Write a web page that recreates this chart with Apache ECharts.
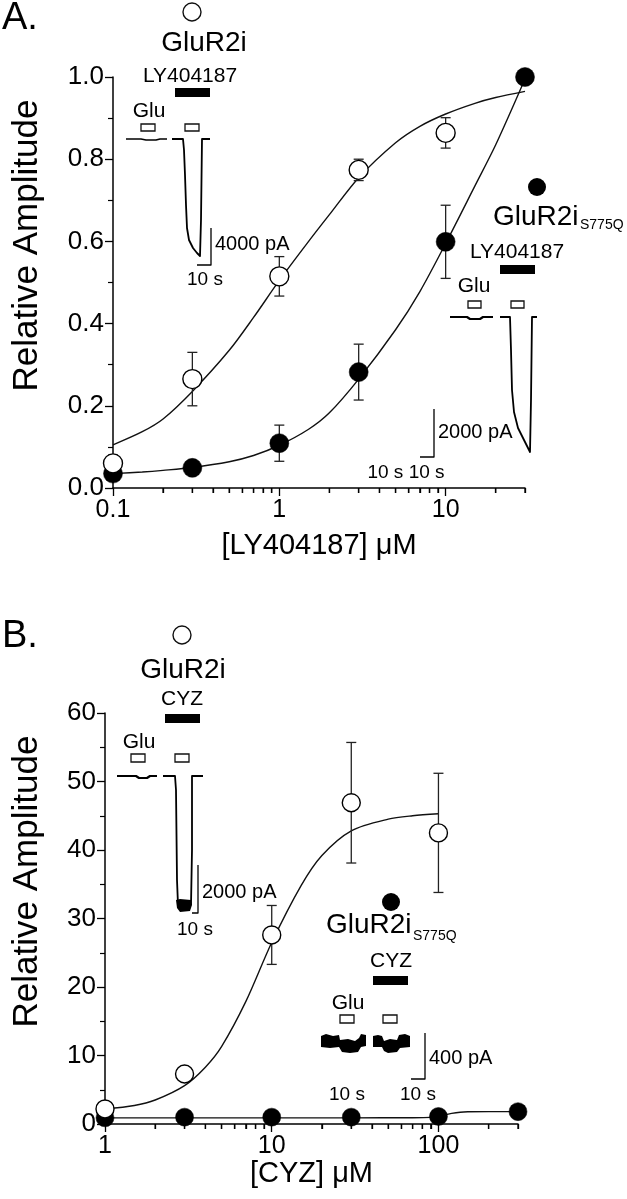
<!DOCTYPE html>
<html>
<head>
<meta charset="utf-8">
<script src="https://cdn.jsdelivr.net/npm/echarts@6/dist/echarts.min.js"></script>
<style>
html,body{margin:0;padding:0;background:#fff;}
#chart{width:627px;height:1199px;}
</style>
</head>
<body>
<div id="chart"></div>
<script>
// ---------------- DATA ----------------
// Panel A: LY404187
const concA = [0.1, 0.3, 1, 3, 10, 30];
const glur2iA = [0.06, 0.265, 0.515, 0.774, 0.864];
const glur2iAErr = [0.02, 0.065, 0.048, 0.026, 0.037];
const s775qA = [0.035, 0.049, 0.109, 0.282, 0.599, 1.0];
const s775qAErr = [0.01, 0.01, 0.044, 0.068, 0.089, 0];
const fitConcA = [0.1, 0.15, 0.2, 0.3, 0.5, 0.7, 1, 1.5, 2, 3, 5, 7, 10, 15, 20, 30];
const fitGluR2iA = [0.105, 0.137, 0.168, 0.235, 0.335, 0.415, 0.505, 0.6, 0.665, 0.755, 0.84, 0.88, 0.91, 0.936, 0.95, 0.965];
const fitS775qA = [0.035, 0.039, 0.043, 0.05, 0.064, 0.079, 0.104, 0.143, 0.183, 0.265, 0.385, 0.478, 0.595, 0.735, 0.835, 0.995];
const majorTicksA = [0.1, 1, 10];
const minorTicksA = [0.2, 0.3, 0.4, 0.5, 0.6, 0.7, 0.8, 0.9, 2, 3, 4, 5, 6, 7, 8, 9, 20, 30];

// Panel B: CYZ
const concB = [1, 3, 10, 30, 100, 300];
const glur2iB = [2.2, 7.3, 27.6, 46.9, 42.5];
const glur2iBErr = [0.4, 0.6, 4.3, 8.8, 8.7];
const s775qB = [0.9, 1.0, 1.0, 1.0, 1.1, 1.8];
const fitConcB = [1, 1.5, 2, 3, 4, 5, 7, 10, 15, 20, 30, 50, 70, 100];
const fitGluR2iB = [2.2, 2.7, 3.5, 5.6, 8.3, 11.3, 17.9, 26.5, 34.8, 39.2, 42.8, 44.5, 45.0, 45.3];
const fitConcS775qB = [1, 10, 30, 70, 90, 100, 110, 120, 135, 150, 200, 300];
const fitS775qB = [0.9, 0.9, 0.9, 0.92, 0.97, 1.1, 1.35, 1.55, 1.72, 1.78, 1.8, 1.8];
const majorTicksB = [1, 10, 100];
const minorTicksB = [2, 3, 4, 5, 6, 7, 8, 9, 20, 30, 40, 50, 60, 70, 80, 90, 200, 300];

// ---------------- HELPERS ----------------
const FONT = '"Liberation Sans", Arial, Helvetica, sans-serif';
const zip = (xs, ys) => ys.map((y, i) => [xs[i], y]);
const errData = (xs, ys, es) => ys.map((y, i) => [xs[i], y - es[i], y + es[i]]);
const fmtLog = v => String(+(+v).toPrecision(3));

function errorBarSeries(data, xi, yi) {
  return {
    type: 'custom', xAxisIndex: xi, yAxisIndex: yi, z: 3,
    renderItem: (params, api) => {
      const x = api.value(0);
      const lo = api.coord([x, api.value(1)]);
      const hi = api.coord([x, api.value(2)]);
      const cw = 5;
      const st = { stroke: '#222', lineWidth: 1.3 };
      return {
        type: 'group',
        children: [
          { type: 'line', shape: { x1: lo[0], y1: lo[1], x2: hi[0], y2: hi[1] }, style: st },
          { type: 'line', shape: { x1: lo[0] - cw, y1: lo[1], x2: lo[0] + cw, y2: lo[1] }, style: st },
          { type: 'line', shape: { x1: hi[0] - cw, y1: hi[1], x2: hi[0] + cw, y2: hi[1] }, style: st }
        ]
      };
    },
    data: data
  };
}

function fitSeries(xs, ys, xi, yi) {
  return {
    type: 'line', xAxisIndex: xi, yAxisIndex: yi, z: 2,
    data: zip(xs, ys), smooth: 0.3, showSymbol: false, symbol: 'none',
    lineStyle: { color: '#111', width: 1.4, opacity: 1 }, silent: true
  };
}

function scatterSeries(xs, ys, xi, yi, open, size) {
  return {
    type: 'scatter', xAxisIndex: xi, yAxisIndex: yi, z: open ? 5 : 4,
    data: zip(xs, ys), symbol: 'circle', symbolSize: size,
    itemStyle: open ? { color: '#fff', borderColor: '#000', borderWidth: 1.4, opacity: 1 }
                    : { color: '#000', borderColor: '#000', borderWidth: 0.5, opacity: 1 },
    clip: false
  };
}

function xMain(gi, min, max, labels, name, nameGap) {
  return {
    type: 'log', logBase: 10, gridIndex: gi, min: min, max: max, position: 'bottom',
    name: name, nameLocation: 'middle', nameGap: nameGap,
    nameTextStyle: { fontFamily: FONT, fontSize: 29, color: '#000' },
    axisLine: { show: true, onZero: false, lineStyle: { color: '#000', width: 1.5 } },
    axisTick: { show: true, length: 8, customValues: labels, lineStyle: { color: '#000', width: 1.3 } },
    axisLabel: { show: true, customValues: labels, formatter: fmtLog, fontFamily: FONT, fontSize: 25, color: '#000', margin: 10 },
    splitLine: { show: false }, minorTick: { show: false }
  };
}
// unlabeled minor ticks: a log axis in a thin strip grid whose bottom edge is the main x-axis line
function xMinor(gi, min, max, ticks) {
  return {
    type: 'log', logBase: 10, gridIndex: gi, min: min, max: max, position: 'bottom',
    axisLine: { show: false, onZero: false },
    axisTick: { show: true, length: 5, customValues: ticks, lineStyle: { color: '#000', width: 1.3 } },
    axisLabel: { show: false }, splitLine: { show: false }
  };
}
function yHidden(gi) {
  return { type: 'value', gridIndex: gi, min: 0, max: 1, show: false };
}
function yAxis(gi, min, max, interval, fmt, nameGap) {
  return {
    type: 'value', gridIndex: gi, min: min, max: max, interval: interval,
    name: 'Relative Amplitude', nameLocation: 'middle', nameRotate: 90, nameGap: nameGap,
    nameTextStyle: { fontFamily: FONT, fontSize: 35, color: '#000', padding: [0, 0, 0, 74] },
    axisLine: { show: true, lineStyle: { color: '#000', width: 1.5 } },
    axisTick: { show: true, length: 8, lineStyle: { color: '#000', width: 1.3 } },
    minorTick: { show: true, splitNumber: 2, length: 5, lineStyle: { color: '#000', width: 1.2 } },
    axisLabel: { formatter: fmt, fontFamily: FONT, fontSize: 26, color: '#000', margin: 9 },
    splitLine: { show: false }
  };
}

// ---------------- GRAPHIC INSETS (illustrative traces) ----------------
const T = (x, y, s, size, align) => ({ type: 'text', x: x, y: y, silent: true,
  style: { text: s, font: size + 'px ' + FONT, fill: '#000', align: align || 'center', verticalAlign: 'middle' } });
const R = (x, y, w, h, filled) => ({ type: 'rect', silent: true, shape: { x: x, y: y, width: w, height: h },
  style: filled ? { fill: '#000' } : { fill: '#fff', stroke: '#111', lineWidth: 1.3 } });
const P = (pts, lw) => ({ type: 'polyline', silent: true, shape: { points: pts },
  style: { stroke: '#000', lineWidth: lw || 1.6, fill: null, lineJoin: 'round' } });
const C = (cx, cy, r, filled) => ({ type: 'circle', silent: true, shape: { cx: cx, cy: cy, r: r },
  style: filled ? { fill: '#000' } : { fill: '#fff', stroke: '#111', lineWidth: 1.4 } });
const PG = (pts) => ({ type: 'polygon', silent: true, shape: { points: pts }, style: { fill: '#000' } });

const graphics = [
  // Panel labels
  T(2, 19, 'A.', 38, 'left'),
  T(2, 637, 'B.', 38, 'left'),

  // ---- Panel A, GluR2i inset ----
  C(192, 12, 9, false),
  T(204, 43, 'GluR2i', 28),
  T(190, 76, 'LY404187', 21),
  R(175, 88, 35, 9, true),
  T(149, 111, 'Glu', 21),
  R(141, 124, 14, 7, false),
  R(185, 124, 14, 7, false),
  P([[126, 139], [141, 139], [146, 140], [156, 140], [160, 139], [167, 139]], 1.6),
  P([[172, 139], [183, 139], [184, 150], [185, 175], [186, 205], [187, 228], [189, 240], [193, 248], [197, 253], [200, 256], [201, 220], [202, 139], [210, 139]], 1.8),
  P([[197, 265], [211, 265], [211, 228]], 1.3),
  T(215, 244, '4000 pA', 20, 'left'),
  T(205, 280, '10 s', 19),

  // ---- Panel A, GluR2i S775Q inset ----
  C(537, 187, 9, true),
  T(493, 217, 'GluR2i', 28, 'left'),
  T(580, 225, 'S775Q', 14, 'left'),
  T(517, 252, 'LY404187', 21),
  R(500, 265, 35, 9, true),
  T(474, 286, 'Glu', 21),
  R(468, 301, 13, 7, false),
  R(511, 301, 13, 7, false),
  P([[450, 317], [467, 317], [470, 319], [480, 319], [483, 317], [493, 317]], 2.2),
  P([[500, 317], [510, 317], [511, 350], [512, 390], [514, 412], [518, 428], [522, 436], [526, 444], [530, 452], [531, 400], [532, 317], [537, 317]], 1.8),
  P([[420, 457], [434, 457], [434, 409]], 1.3),
  T(438, 432, '2000 pA', 20, 'left'),
  T(406, 473, '10 s 10 s', 19),

  // ---- Panel B, GluR2i inset ----
  C(182, 635, 9, false),
  T(183, 670, 'GluR2i', 28),
  T(182, 699, 'CYZ', 21),
  R(165, 714, 35, 9, true),
  T(139, 742, 'Glu', 21),
  R(131, 754, 14, 8, false),
  R(175, 754, 14, 8, false),
  P([[117, 776], [136, 776], [139, 778], [147, 778], [150, 776], [157, 776]], 2.2),
  P([[163, 776], [175, 776], [176, 790], [177, 880], [178, 905]], 1.8),
  PG([[176, 900], [180, 899], [191, 900], [192, 905], [190, 911], [180, 912], [177, 908]]),
  P([[191, 905], [192, 850], [192, 776], [203, 776]], 1.8),
  P([[192, 913], [198, 913], [198, 865]], 1.3),
  T(202, 892, '2000 pA', 20, 'left'),
  T(195, 930, '10 s', 19),

  // ---- Panel B, GluR2i S775Q inset ----
  C(391, 902, 9, true),
  T(326, 925, 'GluR2i', 28, 'left'),
  T(413, 936, 'S775Q', 14, 'left'),
  T(391, 961, 'CYZ', 21),
  R(373, 976, 35, 9, true),
  T(348, 1003, 'Glu', 21),
  R(340, 1015, 14, 8, false),
  R(383, 1015, 14, 8, false),
  PG([[321, 1036], [326, 1034], [333, 1036], [339, 1035], [340, 1040], [348, 1039], [355, 1041], [359, 1038], [361, 1034], [366, 1035], [366, 1046], [361, 1047], [358, 1052], [350, 1053], [342, 1052], [339, 1047], [330, 1048], [321, 1047]]),
  PG([[373, 1036], [378, 1035], [382, 1036], [384, 1041], [390, 1039], [397, 1040], [399, 1035], [405, 1034], [410, 1036], [410, 1047], [400, 1048], [397, 1052], [388, 1053], [384, 1051], [382, 1047], [373, 1047]]),
  P([[411, 1079], [425, 1079], [425, 1033]], 1.3),
  T(429, 1058, '400 pA', 20, 'left'),
  T(347, 1095, '10 s', 19),
  T(418, 1095, '10 s', 19)
];

// ---------------- OPTION ----------------
const option = {
  animation: false,
  backgroundColor: '#fff',
  textStyle: { fontFamily: FONT },
  grid: [
    { left: 113, top: 77, width: 412, height: 411 },
    { left: 105, top: 713, width: 413, height: 411 },
    { left: 113, top: 478, width: 412, height: 10 },   // strip for panel A minor ticks
    { left: 105, top: 1114, width: 413, height: 10 }   // strip for panel B minor ticks
  ],
  xAxis: [
    xMain(0, 0.1, 30, majorTicksA, '[LY404187] \u03BCM', 43),
    xMain(1, 1, 300, majorTicksB, '[CYZ] \u03BCM', 33),
    xMinor(2, 0.1, 30, minorTicksA),
    xMinor(3, 1, 300, minorTicksB)
  ],
  yAxis: [
    yAxis(0, 0, 1, 0.2, v => v.toFixed(1), 68),
    yAxis(1, 0, 60, 10, v => String(v), 60),
    yHidden(2),
    yHidden(3)
  ],
  series: [
    fitSeries(fitConcA, fitGluR2iA, 0, 0),
    fitSeries(fitConcA, fitS775qA, 0, 0),
    errorBarSeries(errData(concA, glur2iA, glur2iAErr), 0, 0),
    errorBarSeries(errData(concA, s775qA, s775qAErr), 0, 0),
    scatterSeries(concA, s775qA, 0, 0, false, 19),
    scatterSeries(concA, glur2iA, 0, 0, true, 19),

    fitSeries(fitConcB, fitGluR2iB, 1, 1),
    fitSeries(fitConcS775qB, fitS775qB, 1, 1),
    errorBarSeries(errData(concB, glur2iB, glur2iBErr), 1, 1),
    scatterSeries(concB, s775qB, 1, 1, false, 18),
    scatterSeries(concB, glur2iB, 1, 1, true, 18)
  ],
  graphic: graphics
};

const chart = echarts.init(document.getElementById('chart'), null, { renderer: 'canvas' });
chart.setOption(option);

// Minor ticks also drawn through the main axes' scales (coincide with the strip-axis ticks)
function minorTickGraphics(ticks, xAxisIndex, yAxisIndex) {
  const out = [];
  ticks.forEach(v => {
    const p = chart.convertToPixel({ xAxisIndex: xAxisIndex, yAxisIndex: yAxisIndex }, [v, 0]);
    if (p && isFinite(p[0]) && isFinite(p[1])) {
      out.push({ type: 'line', silent: true, z: 100,
        shape: { x1: p[0], y1: p[1], x2: p[0], y2: p[1] + 5 },
        style: { stroke: '#000', lineWidth: 1.3 } });
    }
  });
  return out;
}
const tickG = minorTickGraphics(minorTicksA, 0, 0).concat(minorTickGraphics(minorTicksB, 1, 1));
chart.setOption({ graphic: { elements: graphics.concat(tickG) } });
</script>
</body>
</html>
